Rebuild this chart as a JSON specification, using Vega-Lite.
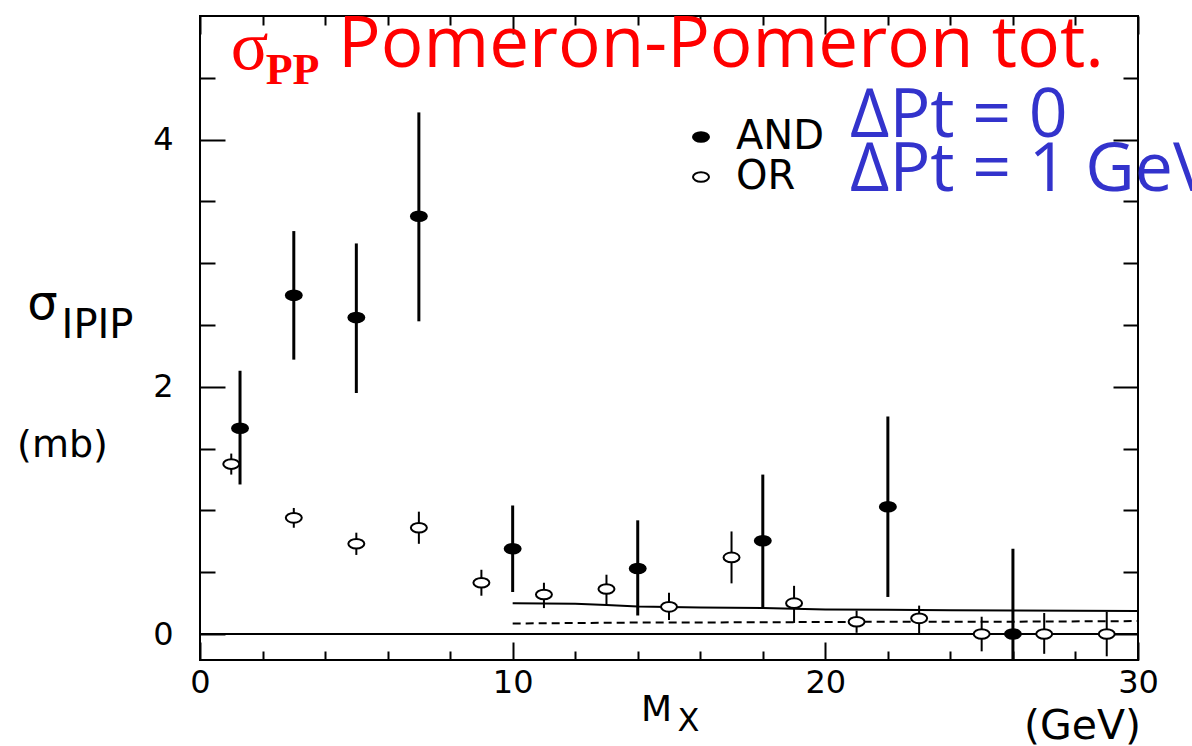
{
  "$schema": "https://vega.github.io/schema/vega-lite/v6.json",
  "width": 938,
  "height": 644,
  "autosize": "none",
  "padding": {"left": 200, "top": 16, "right": 54, "bottom": 86},
  "background": "white",
  "config": {"view": {"stroke": "black", "strokeWidth": 2}, "font": "DejaVu Sans"},
  "title": {
    "text": "Pomeron-Pomeron tot.",
    "font": "Open Sans",
    "fontSize": 71,
    "fontWeight": "normal",
    "color": "#ff0000",
    "anchor": "start",
    "frame": "group",
    "orient": "top",
    "offset": 0,
    "baseline": "alphabetic",
    "dx": 138,
    "dy": 126
  },
  "datasets": {
    "measurements": [
      {"mx": 1.28, "sigma": 1.665, "lo": 1.21, "hi": 2.13, "trigger": "AND"},
      {"mx": 3, "sigma": 2.74, "lo": 2.22, "hi": 3.26, "trigger": "AND"},
      {"mx": 5, "sigma": 2.56, "lo": 1.95, "hi": 3.16, "trigger": "AND"},
      {"mx": 7, "sigma": 3.38, "lo": 2.53, "hi": 4.22, "trigger": "AND"},
      {"mx": 10, "sigma": 0.69, "lo": 0.34, "hi": 1.04, "trigger": "AND"},
      {"mx": 14, "sigma": 0.53, "lo": 0.15, "hi": 0.92, "trigger": "AND"},
      {"mx": 18, "sigma": 0.755, "lo": 0.21, "hi": 1.29, "trigger": "AND"},
      {"mx": 22, "sigma": 1.03, "lo": 0.3, "hi": 1.76, "trigger": "AND"},
      {"mx": 26, "sigma": 0.0, "lo": -0.21, "hi": 0.69, "trigger": "AND"},
      {"mx": 1, "sigma": 1.375, "lo": 1.29, "hi": 1.46, "trigger": "OR"},
      {"mx": 3, "sigma": 0.94, "lo": 0.86, "hi": 1.02, "trigger": "OR"},
      {"mx": 5, "sigma": 0.73, "lo": 0.64, "hi": 0.82, "trigger": "OR"},
      {"mx": 7, "sigma": 0.86, "lo": 0.73, "hi": 0.99, "trigger": "OR"},
      {"mx": 9, "sigma": 0.415, "lo": 0.31, "hi": 0.52, "trigger": "OR"},
      {"mx": 11, "sigma": 0.32, "lo": 0.21, "hi": 0.415, "trigger": "OR"},
      {"mx": 13, "sigma": 0.365, "lo": 0.235, "hi": 0.48, "trigger": "OR"},
      {"mx": 15, "sigma": 0.22, "lo": 0.113, "hi": 0.335, "trigger": "OR"},
      {"mx": 17, "sigma": 0.62, "lo": 0.41, "hi": 0.83, "trigger": "OR"},
      {"mx": 19, "sigma": 0.25, "lo": 0.09, "hi": 0.39, "trigger": "OR"},
      {"mx": 21, "sigma": 0.1, "lo": 0.01, "hi": 0.19, "trigger": "OR"},
      {"mx": 23, "sigma": 0.127, "lo": 0.0, "hi": 0.23, "trigger": "OR"},
      {"mx": 25, "sigma": 0.0, "lo": -0.14, "hi": 0.14, "trigger": "OR"},
      {"mx": 27, "sigma": 0.0, "lo": -0.16, "hi": 0.17, "trigger": "OR"},
      {"mx": 29, "sigma": 0.0, "lo": -0.18, "hi": 0.18, "trigger": "OR"}
    ],
    "modelSolid": [
      {"mx": 10, "sigma": 0.25}, {"mx": 12, "sigma": 0.245}, {"mx": 13, "sigma": 0.235},
      {"mx": 14, "sigma": 0.222}, {"mx": 16, "sigma": 0.214}, {"mx": 18, "sigma": 0.21},
      {"mx": 20, "sigma": 0.198}, {"mx": 22, "sigma": 0.196}, {"mx": 24, "sigma": 0.193},
      {"mx": 26, "sigma": 0.19}, {"mx": 28, "sigma": 0.188}, {"mx": 30, "sigma": 0.186}
    ],
    "modelDashed": [
      {"mx": 10, "sigma": 0.085}, {"mx": 14, "sigma": 0.093}, {"mx": 18, "sigma": 0.095},
      {"mx": 22, "sigma": 0.1}, {"mx": 26, "sigma": 0.1}, {"mx": 30, "sigma": 0.105}
    ]
  },
  "resolve": {"axis": {"x": "independent", "y": "independent"}},
  "layer": [
    {
      "data": {"name": "measurements"},
      "transform": [{"filter": "datum.trigger === 'AND'"}],
      "mark": {"type": "rule", "strokeWidth": 3, "color": "black"},
      "encoding": {
        "x": {"field": "mx", "type": "quantitative",
          "scale": {"domain": [0, 30], "nice": false, "zero": false},
          "axis": {"orient": "bottom", "values": [0, 10, 20, 30], "format": "d", "tickSize": -18, "tickWidth": 2, "tickColor": "black",
            "domain": false, "grid": false, "labelFont": "DejaVu Sans", "labelFontSize": 32, "labelColor": "black",
            "labelPadding": 25, "labelFlush": false, "labelOverlap": false,
            "title": "M", "titleFont": "DejaVu Sans", "titleFontSize": 36, "titleFontWeight": "normal", "titleColor": "black",
            "titleX": 456, "titleY": 60, "titleAlign": "center", "titleBaseline": "alphabetic", "titleAngle": 0}},
        "y": {"field": "lo", "type": "quantitative",
          "scale": {"domain": [-0.21, 5.0], "nice": false, "zero": false},
          "axis": {"orient": "left", "values": [0, 2, 4], "format": "d", "tickSize": -25, "tickWidth": 2, "tickColor": "black",
            "domain": false, "grid": false, "labelFont": "DejaVu Sans", "labelFontSize": 32, "labelColor": "black",
            "labelPadding": 52, "labelFlush": false, "labelOverlap": false,
            "title": "σ", "titleFont": "DejaVu Sans", "titleFontSize": 48, "titleFontWeight": "normal", "titleColor": "black",
            "titleX": -158, "titleY": 302, "titleAlign": "center", "titleBaseline": "alphabetic", "titleAngle": 0}},
        "y2": {"field": "hi"}
      }
    },
    {
      "data": {"name": "measurements"},
      "transform": [{"filter": "datum.trigger === 'OR'"}],
      "mark": {"type": "rule", "strokeWidth": 2, "color": "black"},
      "encoding": {
        "x": {"field": "mx", "type": "quantitative",
          "scale": {"domain": [0, 30], "nice": false, "zero": false},
          "axis": {"orient": "bottom", "values": [2, 4, 6, 8, 12, 14, 16, 18, 22, 24, 26, 28], "tickSize": -9, "tickWidth": 2, "tickColor": "black",
            "domain": false, "grid": false, "labels": false,
            "title": "X", "titleFont": "DejaVu Sans", "titleFontSize": 32, "titleFontWeight": "normal", "titleColor": "black",
            "titleX": 488, "titleY": 70, "titleAlign": "center", "titleBaseline": "alphabetic", "titleAngle": 0}},
        "y": {"field": "lo", "type": "quantitative",
          "scale": {"domain": [-0.21, 5.0], "nice": false, "zero": false},
          "axis": {"orient": "left", "values": [0.5, 1, 1.5, 2.5, 3, 3.5, 4.5], "tickSize": -15, "tickWidth": 2, "tickColor": "black",
            "domain": false, "grid": false, "labels": false,
            "title": "IPIP", "titleFont": "DejaVu Sans", "titleFontSize": 40, "titleFontWeight": "normal", "titleColor": "black",
            "titleX": -103, "titleY": 321, "titleAlign": "center", "titleBaseline": "alphabetic", "titleAngle": 0}},
        "y2": {"field": "hi"}
      }
    },
    {
      "data": {"name": "modelSolid"},
      "mark": {"type": "line", "strokeWidth": 2, "color": "black"},
      "encoding": {
        "x": {"field": "mx", "type": "quantitative",
          "scale": {"domain": [0, 30], "nice": false, "zero": false},
          "axis": {"orient": "top", "values": [0, 10, 20, 30], "tickSize": -18, "tickWidth": 2, "tickColor": "black",
            "domain": false, "grid": false, "labels": false,
            "title": "(GeV)", "titleFont": "DejaVu Sans", "titleFontSize": 41, "titleFontWeight": "normal", "titleColor": "black",
            "titleX": 882, "titleY": 722, "titleAlign": "center", "titleBaseline": "alphabetic", "titleAngle": 0}},
        "y": {"field": "sigma", "type": "quantitative",
          "scale": {"domain": [-0.21, 5.0], "nice": false, "zero": false},
          "axis": {"orient": "right", "values": [0, 2, 4], "tickSize": -25, "tickWidth": 2, "tickColor": "black",
            "domain": false, "grid": false, "labels": false,
            "title": "(mb)", "titleFont": "DejaVu Sans", "titleFontSize": 38, "titleFontWeight": "normal", "titleColor": "black",
            "titleX": -1076, "titleY": 440, "titleAlign": "center", "titleBaseline": "alphabetic", "titleAngle": 0}}
      }
    },
    {
      "data": {"name": "modelDashed"},
      "mark": {"type": "line", "strokeWidth": 2, "color": "black", "strokeDash": [8, 5]},
      "encoding": {
        "x": {"field": "mx", "type": "quantitative",
          "scale": {"domain": [0, 30], "nice": false, "zero": false},
          "axis": {"orient": "top", "values": [2, 4, 6, 8, 12, 14, 16, 18, 22, 24, 26, 28], "tickSize": -9, "tickWidth": 2, "tickColor": "black",
            "domain": false, "grid": false, "labels": false,
            "title": "σ", "titleFont": "Liberation Serif", "titleFontSize": 70, "titleFontWeight": "normal", "titleColor": "#ff0000",
            "titleX": 49, "titleY": 52, "titleAlign": "center", "titleBaseline": "alphabetic", "titleAngle": 0}},
        "y": {"field": "sigma", "type": "quantitative",
          "scale": {"domain": [-0.21, 5.0], "nice": false, "zero": false},
          "axis": {"orient": "right", "values": [0.5, 1, 1.5, 2.5, 3, 3.5, 4.5], "tickSize": -15, "tickWidth": 2, "tickColor": "black",
            "domain": false, "grid": false, "labels": false,
            "title": "PP", "titleFont": "Liberation Serif", "titleFontSize": 44, "titleFontWeight": "bold", "titleColor": "#ff0000",
            "titleX": -846, "titleY": 67, "titleAlign": "center", "titleBaseline": "alphabetic", "titleAngle": 0}}
      }
    },
    {
      "data": {"values": [{"ref": 0}]},
      "mark": {"type": "rule", "strokeWidth": 2, "color": "black"},
      "encoding": {
        "y": {"field": "ref", "type": "quantitative", "scale": {"domain": [-0.21, 5.0], "nice": false, "zero": false}, "axis": null}
      }
    },
    {
      "data": {"name": "measurements"},
      "mark": {"type": "point", "shape": "M-1,0A1,0.6,0,1,0,1,0A1,0.6,0,1,0,-1,0Z", "size": 256, "stroke": "black", "strokeWidth": 2, "opacity": 1, "fillOpacity": 1},
      "encoding": {
        "x": {"field": "mx", "type": "quantitative", "scale": {"domain": [0, 30], "nice": false, "zero": false}, "axis": null},
        "y": {"field": "sigma", "type": "quantitative", "scale": {"domain": [-0.21, 5.0], "nice": false, "zero": false}, "axis": null},
        "fill": {"field": "trigger", "type": "nominal",
          "scale": {"domain": ["AND", "OR"], "range": ["black", "white"]},
          "legend": {"orient": "none", "legendX": 481, "legendY": 101, "padding": 0,
            "title": ["ΔPt = 0", "ΔPt = 1 GeV"], "titleOrient": "right", "titleFont": "Open Sans", "titleFontSize": 68,
            "titleFontWeight": "normal", "titleColor": "#3333cc", "titleLineHeight": 54, "titleBaseline": "middle",
            "titleAnchor": "start", "titlePadding": 26, "titleLimit": 2000,
            "labelFont": "DejaVu Sans", "labelFontSize": 40, "labelColor": "black", "labelOffset": 15, "labelLimit": 500,
            "symbolSize": 256, "symbolStrokeColor": "black", "symbolStrokeWidth": 2, "rowPadding": 0}}
      }
    }
  ]
}
